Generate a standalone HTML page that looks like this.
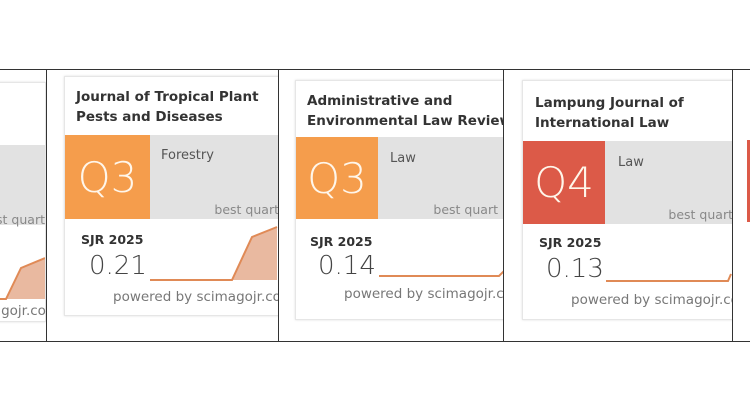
<!DOCTYPE html><html><head><style>
body{margin:0;width:750px;height:400px;background:#fff;position:relative;overflow:hidden;font-family:"DejaVu Sans","Liberation Sans",sans-serif}
.cell{position:absolute;top:70px;height:271px;overflow:hidden}
.card{position:absolute;background:#fff;border:1px solid #e6e6e6;box-shadow:0 0 2px #ddd}
.t{position:absolute;font-weight:bold;font-size:13.5px;color:#333;line-height:20px}
.band{position:absolute;left:0;right:0;background:#e2e2e2}
.q{position:absolute;left:0;top:0;bottom:0;color:#fff6ea;font-size:42px;font-weight:300;display:flex;align-items:center;justify-content:center}
.cat{position:absolute;font-size:13px;color:#555}
.bq{position:absolute;right:-20px;bottom:2px;font-size:12.5px;color:#888;white-space:nowrap}
.sjr{position:absolute;font-size:12.5px;font-weight:bold;color:#333}
.v{position:absolute;font-size:26px;color:#444;font-weight:300}
.pw{position:absolute;font-size:13.5px;color:#777;white-space:nowrap}
</style></head><body>
<div style="position:absolute;left:0;right:0;top:69px;border-top:1px solid #333"></div>
<div style="position:absolute;left:0;right:0;top:341px;border-top:1px solid #333"></div>
<div style="position:absolute;left:46px;top:69px;height:273px;border-left:1px solid #333"></div>
<div style="position:absolute;left:278px;top:69px;height:273px;border-left:1px solid #333"></div>
<div style="position:absolute;left:503px;top:69px;height:273px;border-left:1px solid #333"></div>
<div style="position:absolute;left:732px;top:69px;height:273px;border-left:1px solid #333"></div>

<!-- cell 0 -->
<div class="cell" style="left:0;width:46px">
<div class="card" style="left:-170px;top:12px;width:214px;height:238px">
<div class="band" style="top:62px;height:80px"></div>
<div class="bq" style="right:0;bottom:auto;top:129px;">best quart</div>
<svg style="position:absolute;left:0;top:0" width="214" height="238"><path d="M150 216 L175 216 L190 185 L214 175 L214 216 Z" fill="#e9b9a0"/><path d="M150 216 L175 216 L190 185 L214 175" stroke="#e08a56" stroke-width="2" fill="none"/></svg>
<div class="pw" style="left:47px;top:220px">powered by scimagojr.co</div>
</div></div>

<!-- cell 1 -->
<div class="cell" style="left:47px;width:231px">
<div class="card" style="left:17px;top:6px;width:240px;height:238px">
<div class="t" style="left:11px;top:10px">Journal of Tropical Plant<br>Pests and Diseases</div>
<div class="band" style="top:58px;height:84px"><div class="q" style="width:85px;background:#f59d4c">Q3</div><div class="cat" style="left:96px;top:13px">Forestry</div><div class="bq" style="right:26px">best quart</div></div>
<div class="sjr" style="left:16px;top:155px">SJR 2025</div>
<div class="v" style="left:24px;top:174px">0.21</div>
<svg style="position:absolute;left:0;top:0" width="240" height="238"><path d="M85 203 L167 203 L187 160 L212 150 L212 203 Z" fill="#e9b9a0"/><path d="M85 203 L167 203 L187 160 L212 150" stroke="#e08a56" stroke-width="2" fill="none"/></svg>
<div class="pw" style="left:48px;top:212px">powered by scimagojr.co</div>
</div></div>

<!-- cell 2 -->
<div class="cell" style="left:279px;width:224px">
<div class="card" style="left:16px;top:10px;width:240px;height:238px">
<div class="t" style="left:11px;top:10px">Administrative and<br>Environmental Law Review</div>
<div class="band" style="top:56px;height:82px"><div class="q" style="width:82px;background:#f59d4c">Q3</div><div class="cat" style="left:94px;top:14px">Law</div><div class="bq" style="right:38px">best quart</div></div>
<div class="sjr" style="left:14px;top:153px">SJR 2025</div>
<div class="v" style="left:22px;top:170px">0.14</div>
<svg style="position:absolute;left:0;top:0" width="240" height="238"><path d="M83 195 L203 195 L208 190" stroke="#e08a56" stroke-width="2" fill="none"/></svg>
<div class="pw" style="left:48px;top:205px">powered by scimagojr.co</div>
</div></div>

<!-- cell 3 -->
<div class="cell" style="left:504px;width:228px">
<div class="card" style="left:18px;top:10px;width:240px;height:238px">
<div class="t" style="left:12px;top:12px">Lampung Journal of<br>International Law</div>
<div class="band" style="top:60px;height:83px"><div class="q" style="width:82px;background:#dc5a48">Q4</div><div class="cat" style="left:95px;top:14px">Law</div><div class="bq" style="right:30px">best quart</div></div>
<div class="sjr" style="left:16px;top:154px">SJR 2025</div>
<div class="v" style="left:23px;top:173px">0.13</div>
<svg style="position:absolute;left:0;top:0" width="240" height="238"><path d="M83 200 L205 200 L208 193" stroke="#e08a56" stroke-width="2" fill="none"/></svg>
<div class="pw" style="left:48px;top:211px">powered by scimagojr.co</div>
</div></div>

<div style="position:absolute;left:747px;top:140px;width:3px;height:82px;background:#dc5a48"></div>
</body></html>
